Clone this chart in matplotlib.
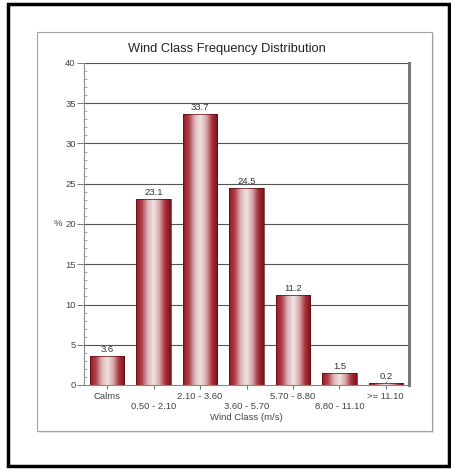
import numpy as np
import matplotlib
matplotlib.use("Agg")
import matplotlib.pyplot as plt
from matplotlib.patches import Rectangle
from matplotlib.colors import LinearSegmentedColormap

categories = ["Calms", "0.50 - 2.10", "2.10 - 3.60", "3.60 - 5.70", "5.70 - 8.80", "8.80 - 11.10", ">= 11.10"]
values = [3.6, 23.1, 33.7, 24.5, 11.2, 1.5, 0.2]
value_labels = ["3.6", "23.1", "33.7", "24.5", "11.2", "1.5", "0.2"]
yticks = [0, 5, 10, 15, 20, 25, 30, 35, 40]

plt.rcParams['font.family'] = ['Liberation Sans', 'DejaVu Sans']

W, H = 451, 474
fig = plt.figure(figsize=(W/100, H/100), dpi=100)
fig.patch.set_facecolor('white')

def fx(px): return px / W
def fy(py): return 1 - py / H

# outer black border
fig.patches.append(Rectangle((fx(8), fy(466)), fx(441), 462/H, transform=fig.transFigure,
                             fill=False, edgecolor='black', lw=2.5, zorder=-5))
# inner panel shadow + border
fig.patches.append(Rectangle((fx(39), fy(433)), fx(395), 399/H, transform=fig.transFigure,
                             fill=True, facecolor='#e4e4e4', edgecolor='none', zorder=-6))
fig.patches.append(Rectangle((fx(37), fy(431)), fx(395), 399/H, transform=fig.transFigure,
                             fill=True, facecolor='white', edgecolor='#a0a0a0', lw=0.8, zorder=-5))

ax = fig.add_axes([fx(84), fy(385), fx(409 - 84), (385 - 63)/H])
ax.set_zorder(1)
ax.set_facecolor('white')
x = np.arange(len(categories))

cmap = LinearSegmentedColormap.from_list('cyl', ['#951822', '#b0404a', '#dcb4b8', '#efe2e3', '#d9a9ad', '#a8323b', '#7e0e16'])
grad = np.linspace(0, 1, 256).reshape(1, -1)
bw = 0.74
for i, v in enumerate(values):
    rect = Rectangle((x[i] - bw/2, 0), bw, v, facecolor='none', edgecolor='#5a0a0e', lw=0.5, zorder=3)
    ax.add_patch(rect)
    im = ax.imshow(grad, cmap=cmap, extent=(x[i] - bw/2, x[i] + bw/2, 0, v), aspect='auto', zorder=2)
    im.set_clip_path(rect)
    ax.text(x[i], v + 0.25, value_labels[i], ha='center', va='bottom', fontsize=6.8, color='#333333', zorder=4)
ax.set_aspect('auto')
ax.set_xlim(-0.5, len(categories) - 0.5)
ax.set_ylim(0, 40)

for yv in yticks[1:]:
    ax.axhline(yv, color='#555555', lw=0.8, zorder=1)

ax.set_yticks(yticks)
ax.set_yticklabels([str(t) for t in yticks], fontsize=6.8, color='#444444')
ax.set_yticks(np.arange(0, 41, 1), minor=True)
ax.tick_params(axis='y', which='major', length=5, width=0.6, color='#666666', direction='out', pad=1)
ax.tick_params(axis='y', which='minor', length=2.5, width=0.5, color='#888888', direction='in')

ax.set_xticks(x)
ax.set_xticklabels([])
ax.tick_params(axis='x', which='major', length=6, width=0.6, color='#555555', direction='inout')
for i, c in enumerate(categories):
    off = -0.022 if i % 2 == 0 else -0.054
    ax.text(x[i], off, c, transform=ax.get_xaxis_transform(), ha='center', va='top',
            fontsize=6.8, color='#444444')

ax.text(0.5, -0.087, "Wind Class (m/s)", transform=ax.transAxes, ha='center', va='top',
        fontsize=6.8, color='#444444')
ax.text(-0.068, 0.5, "%", transform=ax.transAxes, ha='right', va='center', fontsize=6.8, color='#444444')

ax.spines['top'].set_visible(False)
ax.spines['left'].set_color('#888888')
ax.spines['left'].set_linewidth(0.8)
ax.spines['bottom'].set_color('#888888')
ax.spines['bottom'].set_linewidth(0.8)
ax.spines['right'].set_color('#777777')
ax.spines['right'].set_linewidth(2.2)

fig.text(fx(227), fy(49), "Wind Class Frequency Distribution", ha='center', va='center',
         fontsize=9.3, color='#222222')

fig.savefig('out.png', dpi=100, facecolor='white')
